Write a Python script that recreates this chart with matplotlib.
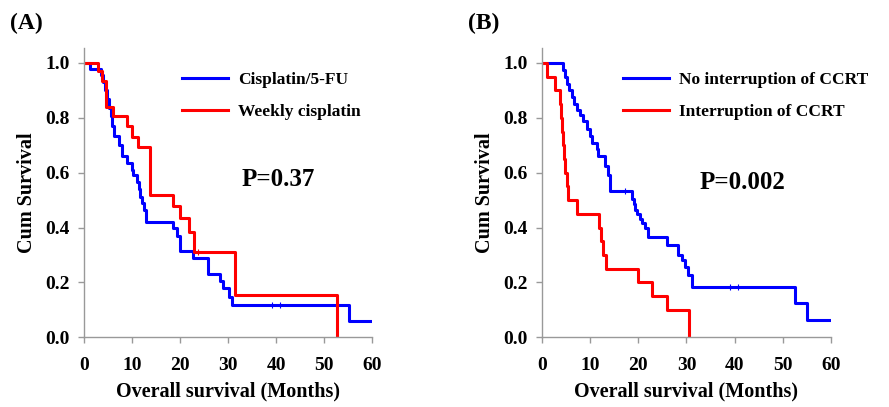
import numpy as np
import matplotlib
matplotlib.use('Agg')
import matplotlib.pyplot as plt

plt.rcParams['font.family'] = 'Liberation Serif'
plt.rcParams['font.weight'] = 'bold'

# (A) Cisplatin/5-FU vs weekly cisplatin
ta_cis = [0, 1.3, 3.5, 4.0, 4.4, 4.7, 5.2, 5.6, 5.9, 6.3, 7.3, 7.9, 8.9, 9.9, 10.3, 11.0,
          11.4, 11.7, 12.0, 12.4, 13.0, 18.6, 19.3, 20.0, 22.8, 25.9, 28.4, 29.0, 30.1, 30.8,
          55.1, 60]
sa_cis = [1.0, 0.979, 0.958, 0.93, 0.90, 0.87, 0.835, 0.805, 0.77, 0.735, 0.70, 0.66, 0.635,
          0.61, 0.59, 0.565, 0.54, 0.51, 0.49, 0.465, 0.42, 0.40, 0.37, 0.315, 0.29, 0.23,
          0.205, 0.18, 0.148, 0.118, 0.06, 0.06]
ta_wk = [0, 3.0, 3.7, 4.6, 6.1, 8.9, 10.0, 11.3, 13.8, 18.6, 20.0, 21.8, 22.9, 31.4, 52.7]
sa_wk = [1.0, 0.969, 0.933, 0.84, 0.805, 0.77, 0.73, 0.695, 0.517, 0.477, 0.434, 0.385, 0.31,
         0.155, 0.0]
cens_a_cis_t = [39.1, 40.8]
cens_a_cis_s = [0.118, 0.118]
cens_a_wk_t = [23.8]
cens_a_wk_s = [0.31]

# (B) no interruption vs interruption of CCRT
tb_no = [0, 4.3, 4.8, 5.2, 5.7, 6.2, 6.6, 7.2, 7.9, 8.6, 9.3, 10.0, 10.3, 11.4, 11.7, 13.1,
         13.8, 14.1, 18.6, 19.0, 19.3, 19.7, 20.4, 20.7, 21.4, 22.0, 25.9, 28.3, 29.0, 29.7,
         30.4, 31.1, 52.6, 55.0, 60]
sb_no = [1.0, 0.975, 0.95, 0.925, 0.90, 0.875, 0.85, 0.83, 0.81, 0.79, 0.76, 0.735, 0.71,
         0.685, 0.66, 0.625, 0.59, 0.535, 0.505, 0.485, 0.465, 0.45, 0.43, 0.415, 0.40, 0.367,
         0.337, 0.30, 0.28, 0.255, 0.227, 0.185, 0.124, 0.063, 0.063]
tb_int = [0, 1.0, 2.7, 3.7, 3.9, 4.1, 4.3, 4.5, 4.8, 5.1, 5.3, 7.2, 11.8, 12.2, 12.6, 13.2,
          20.0, 22.8, 25.9, 30.6]
sb_int = [1.0, 0.95, 0.90, 0.85, 0.80, 0.75, 0.70, 0.65, 0.60, 0.55, 0.50, 0.45, 0.40, 0.35,
          0.30, 0.25, 0.20, 0.15, 0.10, 0.0]
cens_b_no_t = [17.3, 39.1, 40.8]
cens_b_no_s = [0.535, 0.185, 0.185]

xticks = [0, 10, 20, 30, 40, 50, 60]
yticks = [0.0, 0.2, 0.4, 0.6, 0.8, 1.0]

fig = plt.figure(figsize=(8.89, 4.07), dpi=100)
ax1 = fig.add_axes([0.0945, 0.1713, 0.324, 0.711])
ax2 = fig.add_axes([0.6097, 0.1713, 0.325, 0.711])


def style(ax):
    ax.set_xlim(0, 60)
    ax.set_ylim(0, 1.055)
    ax.set_xticks(xticks)
    ax.set_yticks(yticks)
    ax.set_yticklabels(['%.1f' % v for v in yticks])
    for s in ['top', 'right']:
        ax.spines[s].set_visible(False)
    for s in ['left', 'bottom']:
        ax.spines[s].set_color('#999999')
        ax.spines[s].set_linewidth(1)
    ax.tick_params(axis='both', direction='out', color='#999999', length=4.5, width=1,
                   labelsize=14)
    ax.tick_params(axis='x', pad=10)
    ax.tick_params(axis='y', pad=6)
    ax.set_xlabel('Overall survival (Months)', fontsize=14.5, fontweight='bold', labelpad=5)
    ax.set_ylabel('Cum Survival', fontsize=14.5, fontweight='bold', labelpad=6)


ax1.step(ta_cis, sa_cis, where='post', color='#0000ff', lw=2.2, label='Cisplatin/5-FU')
ax1.step(ta_wk, sa_wk, where='post', color='#ff0000', lw=2.2, label='Weekly cisplatin')
ax1.plot(cens_a_cis_t, cens_a_cis_s, ls='none', marker='|', ms=4, color='#0000ff', mew=0.8)
ax1.plot(cens_a_wk_t, cens_a_wk_s, ls='none', marker='|', ms=4, color='#ff0000', mew=0.8)
style(ax1)
ax1.legend(loc='upper left', bbox_to_anchor=(0.34, 0.918), frameon=False, fontsize=12.5,
           handlelength=2.65, handletextpad=0.6, labelspacing=0.95, borderpad=0,
           borderaxespad=0)
ax1.text(40.4, 0.574, 'P=0.37', fontsize=18, fontweight='bold', ha='center', va='center')

ax2.step(tb_no, sb_no, where='post', color='#0000ff', lw=2.2, label='No interruption of CCRT')
ax2.step(tb_int, sb_int, where='post', color='#ff0000', lw=2.2, label='Interruption of CCRT')
ax2.plot(cens_b_no_t, cens_b_no_s, ls='none', marker='|', ms=4, color='#0000ff', mew=0.8)
style(ax2)
ax2.legend(loc='upper left', bbox_to_anchor=(0.279, 0.918), frameon=False, fontsize=12.5,
           handlelength=2.65, handletextpad=0.6, labelspacing=0.95, borderpad=0,
           borderaxespad=0)
ax2.text(41.7, 0.563, 'P=0.002', fontsize=18, fontweight='bold', ha='center', va='center')

fig.text(10 / 889, 1 - 23 / 407, '(A)', fontsize=17, fontweight='bold', va='center')
fig.text(468 / 889, 1 - 23 / 407, '(B)', fontsize=17, fontweight='bold', va='center')

fig.savefig('out.png', dpi=100)
